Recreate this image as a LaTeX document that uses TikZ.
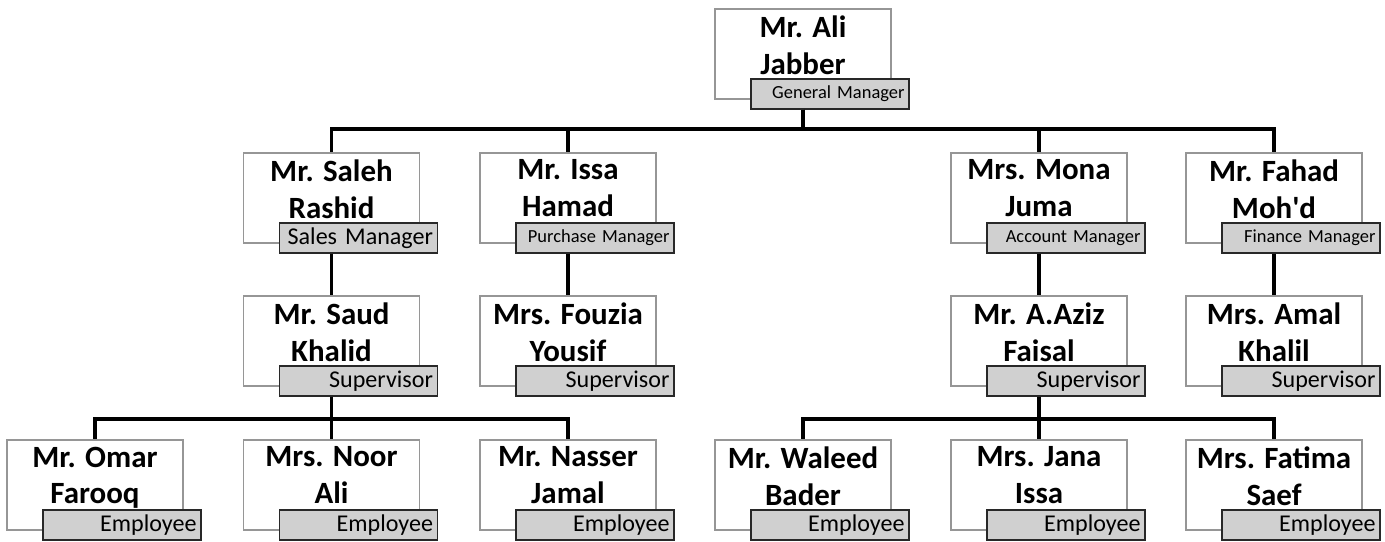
\documentclass[tikz,border=0pt]{standalone}
\usepackage{fontspec}
\setmainfont{Carlito}
\usepackage{tikz}
\usetikzlibrary{positioning,calc}
\usepackage{xcolor}
\definecolor{boxgray}{RGB}{150,150,150}
\definecolor{rolefill}{RGB}{208,208,208}
\definecolor{roleline}{RGB}{40,40,40}

\begin{document}
\begin{tikzpicture}[
    person/.style={draw=boxgray, fill=white, line width=0.7pt,
                   minimum width=3.52cm, minimum height=1.8cm, inner sep=0pt},
    who/.style={anchor=north, align=center, inner sep=0pt,
                font=\fontsize{17.6}{21}\selectfont\bfseries},
    role/.style={draw=roleline, fill=rolefill, line width=0.7pt, anchor=south east,
                 text width=2.98cm, inner xsep=0.09cm, inner ysep=0pt,
                 minimum height=0.6cm, align=right, font=\fontsize{13.7}{16}\selectfont},
    rolesm/.style={role, font=\fontsize{10.5}{13}\selectfont},
    link/.style={line width=1.8pt, black}
]
\useasboundingbox (0,0) rectangle (27.7,-10.82);

\node[person] (ali) at (16.06,-1.08) {};
\node[who] (ali-n) at ([yshift=-0.14cm]ali.north) {Mr. Ali\\Jabber};
\node[rolesm] (ali-r) at ([shift={(0.36,-0.2)}]ali.south east) {General Manager};

\node[person] (saleh) at (6.63,-3.96) {};
\node[who] (saleh-n) at ([yshift=-0.14cm]saleh.north) {Mr. Saleh\\Rashid};
\node[role] (saleh-r) at ([shift={(0.36,-0.2)}]saleh.south east) {Sales Manager};

\node[person] (issa) at (11.36,-3.96) {};
\node[who] (issa-n) at ([yshift=-0.14cm]issa.north) {Mr. Issa\\Hamad};
\node[rolesm] (issa-r) at ([shift={(0.36,-0.2)}]issa.south east) {Purchase Manager};

\node[person] (mona) at (20.78,-3.96) {};
\node[who] (mona-n) at ([yshift=-0.14cm]mona.north) {Mrs. Mona\\Juma};
\node[rolesm] (mona-r) at ([shift={(0.36,-0.2)}]mona.south east) {Account Manager};

\node[person] (fahad) at (25.48,-3.96) {};
\node[who] (fahad-n) at ([yshift=-0.14cm]fahad.north) {Mr. Fahad\\Moh\textquotesingle d};
\node[rolesm] (fahad-r) at ([shift={(0.36,-0.2)}]fahad.south east) {Finance Manager};

\node[person] (saud) at (6.63,-6.82) {};
\node[who] (saud-n) at ([yshift=-0.14cm]saud.north) {Mr. Saud\\Khalid};
\node[role] (saud-r) at ([shift={(0.36,-0.2)}]saud.south east) {Supervisor};

\node[person] (fouzia) at (11.36,-6.82) {};
\node[who] (fouzia-n) at ([yshift=-0.14cm]fouzia.north) {Mrs. Fouzia\\Yousif};
\node[role] (fouzia-r) at ([shift={(0.36,-0.2)}]fouzia.south east) {Supervisor};

\node[person] (aziz) at (20.78,-6.82) {};
\node[who] (aziz-n) at ([yshift=-0.14cm]aziz.north) {Mr. A.Aziz\\Faisal};
\node[role] (aziz-r) at ([shift={(0.36,-0.2)}]aziz.south east) {Supervisor};

\node[person] (amal) at (25.48,-6.82) {};
\node[who] (amal-n) at ([yshift=-0.14cm]amal.north) {Mrs. Amal\\Khalil};
\node[role] (amal-r) at ([shift={(0.36,-0.2)}]amal.south east) {Supervisor};

\node[person] (omar) at (1.9,-9.70) {};
\node[who] (omar-n) at ([yshift=-0.14cm]omar.north) {Mr. Omar\\Farooq};
\node[role] (omar-r) at ([shift={(0.36,-0.2)}]omar.south east) {Employee};

\node[person] (noor) at (6.63,-9.70) {};
\node[who] (noor-n) at ([yshift=-0.14cm]noor.north) {Mrs. Noor\\Ali};
\node[role] (noor-r) at ([shift={(0.36,-0.2)}]noor.south east) {Employee};

\node[person] (nasser) at (11.36,-9.70) {};
\node[who] (nasser-n) at ([yshift=-0.14cm]nasser.north) {Mr. Nasser\\Jamal};
\node[role] (nasser-r) at ([shift={(0.36,-0.2)}]nasser.south east) {Employee};

\node[person] (waleed) at (16.06,-9.70) {};
\node[who] (waleed-n) at ([yshift=-0.14cm]waleed.north) {Mr. Waleed\\Bader};
\node[role] (waleed-r) at ([shift={(0.36,-0.2)}]waleed.south east) {Employee};

\node[person] (jana) at (20.78,-9.70) {};
\node[who] (jana-n) at ([yshift=-0.14cm]jana.north) {Mrs. Jana\\Issa};
\node[role] (jana-r) at ([shift={(0.36,-0.2)}]jana.south east) {Employee};

\node[person] (fatima) at (25.48,-9.70) {};
\node[who] (fatima-n) at ([yshift=-0.14cm]fatima.north) {Mrs. Fatima\\Saef};
\node[role] (fatima-r) at ([shift={(0.36,-0.2)}]fatima.south east) {Employee};

\coordinate (bus1) at (0,-2.58);
\coordinate (bus3) at (0,-8.38);

\draw[link] (ali-r.south -| ali) |- (bus1 -| saleh) -- (saleh.north);
\draw[link] (ali-r.south -| ali) |- (bus1 -| issa) -- (issa.north);
\draw[link] (ali-r.south -| ali) |- (bus1 -| mona) -- (mona.north);
\draw[link] (ali-r.south -| ali) |- (bus1 -| fahad) -- (fahad.north);

\draw[link] (saleh-r.south -| saleh) -- (saud.north);
\draw[link] (issa-r.south -| issa) -- (fouzia.north);
\draw[link] (mona-r.south -| mona) -- (aziz.north);
\draw[link] (fahad-r.south -| fahad) -- (amal.north);

\draw[link] (saud-r.south -| saud) |- (bus3 -| omar) -- (omar.north);
\draw[link] (saud-r.south -| saud) |- (bus3 -| noor) -- (noor.north);
\draw[link] (saud-r.south -| saud) |- (bus3 -| nasser) -- (nasser.north);
\draw[link] (aziz-r.south -| aziz) |- (bus3 -| waleed) -- (waleed.north);
\draw[link] (aziz-r.south -| aziz) |- (bus3 -| jana) -- (jana.north);
\draw[link] (aziz-r.south -| aziz) |- (bus3 -| fatima) -- (fatima.north);
\end{tikzpicture}
\end{document}
